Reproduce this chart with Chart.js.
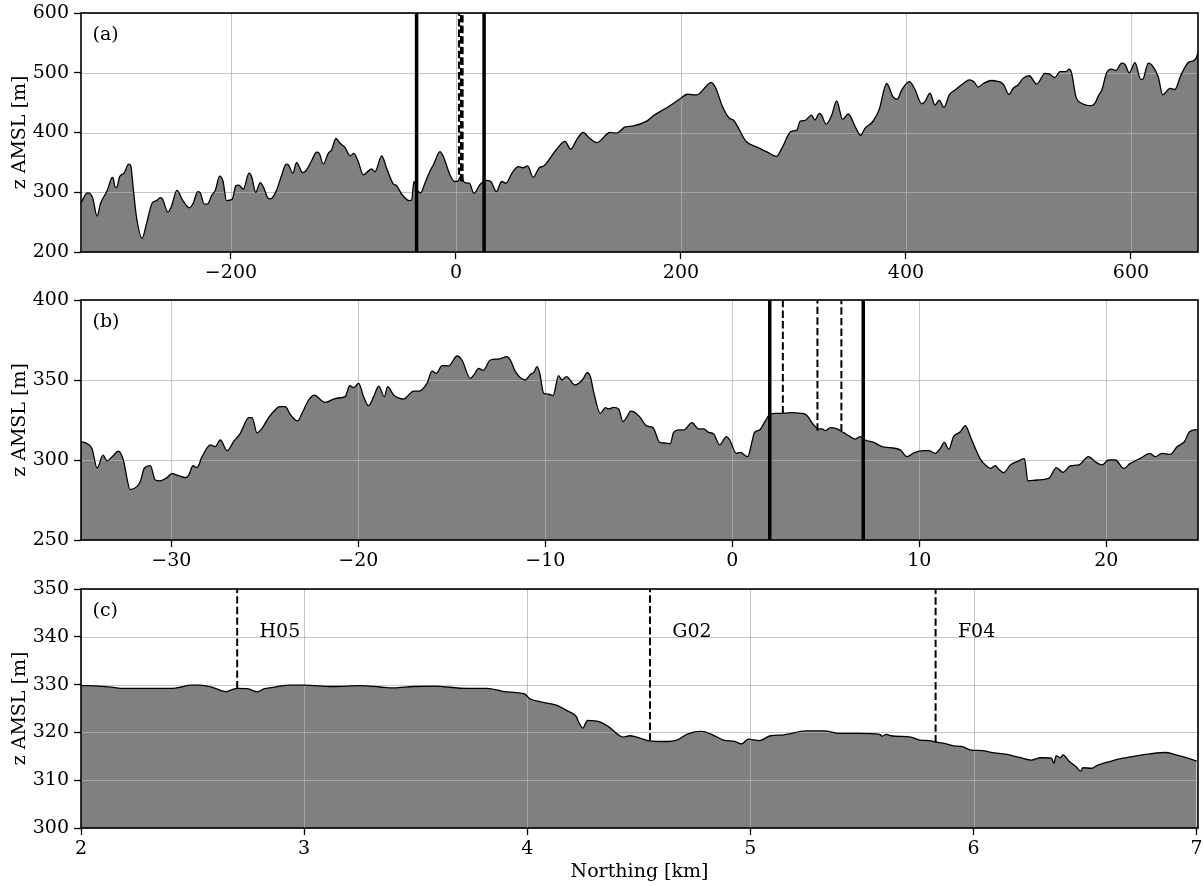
<!DOCTYPE html>
<html><head><meta charset="utf-8">
<script src="https://cdn.jsdelivr.net/npm/chart.js@4/dist/chart.umd.min.js"></script>
<style>
html,body{margin:0;padding:0;background:#fff;}
#wrap{position:relative;width:1203px;height:886px;overflow:hidden;}
canvas{position:absolute;left:0;}
</style></head><body>
<div id="wrap">
<canvas id="ca" width="1203" height="285" style="top:0px"></canvas>
<canvas id="cb" width="1203" height="290" style="top:285px"></canvas>
<canvas id="cc" width="1203" height="311" style="top:575px"></canvas>
</div>
<script>
// ---------- Panel (a): long profile ----------
const aKm = [-333,-329,-327,-323,-319,-316,-310,-306,-305,-303,-301.5,-299,-295,-291,-289,-287,-284,-279,-275,-270,-266,-263,-261,-256,-253,-248,-243,-237,-233.5,-229.6,-227.6,-223.7,-221,-217,-214,-210,-207,-204,-199,-195.6,-193,-189,-184,-181.6,-178,-174,-171,-167,-164.7,-160,-155,-151,-149,-145,-141.6,-139.6,-136.6,-133.3,-128,-124,-121.5,-118,-113.5,-110.5,-106.7,-103,-98.7,-94,-90.7,-86.8,-82.4,-77,-75,-72,-66,-61.6,-55.7,-52.7,-48.3,-41.5,-39.4,-37.3,-35,-31.4,-27.6,-23,-20,-14.2,-11.3,-5.3,-1,2,4,8,12,16,21,26.7,31,36,40.6,44.4,49.5,55.4,59.8,63.7,68.7,74,78,89.5,97,102,107,113,119,125,137,143,150,157.6,169.5,175.4,187,199,205.6,214,227,231,237,243,246.5,258,267,276,285,289.5,298,303,306,310,316,319,323,325,329,334,338.4,343.7,348.7,355.6,359.7,363.6,370.4,376.3,382.8,388.7,392.3,396.2,403,408,414,417,421.3,425.8,429.6,433.8,438.5,443.6,451,456.3,460.4,464.3,468.7,476.2,480.6,486.5,491.6,495.4,499.8,504.3,509.6,516.2,523.6,527.4,532.4,536.9,542.2,545.2,547.3,551.1,556.2,565.1,568,571.8,573.9,578.4,582.8,586.7,591.7,594.7,598.5,603.6,608.6,610.4,615.4,619.8,624.3,628.2,634.7,639.1,644.2,650.9,655.4,657.8,659.8];
const aZ = [283,297,299,291,260,281,303,324,325,309,308,326,332,347,344,309,259,223,248,282,286,291,289,267,276,303,287,274,282,301,300,280,280,295,303,327,318,286,288,311,312,305,332,326,300,316,308,290,289,301,328,347,346,332,350,344,333,336,354,367,365,347,365,371,390,382,375,361,365,351,329,337,339,334,361,340,314,311,297,286,287,318,305,299,315,336,346,368,360,329,318,319,326,316,315,298,312,320,318,301,318,315,331,343,341,344,325,341,344,372,385,372,387,400,390,383,400,399,409,411,419,428,441,456,464,463,484,474,443,424,421,385,376,368,360,373,402,404,419,420,429,421,432,429,414,429,453,422,431,407,395,407,418,439,482,459,456,471,485,472,448,452,466,446,454,442,463,471,482,488,485,476,482,487,486,481,464,474,480,491,495,481,499,498,492,502,502,506,499,460,449,445,449,464,470,500,506,504,516,514,500,517,489,489,516,510,493,463,474,472,495,517,520,524,535];
const aXTicks = [-200, 0, 200, 400, 600];
const aYTicks = [200, 300, 400, 500, 600];
const aSectionKm = [-35, 25];          // extent of panel (b)

// ---------- Panel (b): zoom -35..25 km ----------
const bKm = [-34.83,-34.47,-34.24,-33.97,-33.65,-33.44,-33.17,-32.82,-32.58,-32.19,-31.83,-31.66,-31.44,-31.12,-30.86,-30.59,-30.23,-29.96,-29.61,-29.25,-29.07,-28.84,-28.63,-28.36,-27.91,-27.65,-27.38,-27.02,-26.67,-26.31,-25.86,-25.68,-25.42,-25.15,-24.8,-24.49,-24.21,-23.9,-23.64,-23.25,-23.01,-22.66,-22.35,-21.94,-21.76,-21.32,-20.96,-20.7,-20.46,-20.25,-19.98,-19.72,-19.45,-19.18,-18.91,-18.61,-18.43,-18.11,-17.58,-17.04,-16.77,-16.33,-16.06,-15.83,-15.52,-15.17,-14.72,-14.46,-14.01,-13.8,-13.57,-13.33,-12.94,-12.5,-12.05,-11.87,-11.6,-11.07,-10.8,-10.62,-10.44,-10.3,-10.09,-9.82,-9.59,-9.29,-9.11,-8.88,-8.4,-7.98,-7.77,-7.59,-7.42,-7.06,-6.79,-6.61,-6.35,-6.08,-5.85,-5.63,-5.45,-5.28,-4.92,-4.65,-4.39,-4.21,-3.89,-3.58,-3.32,-3.14,-2.87,-2.6,-2.16,-1.8,-1.53,-1.27,-1,-0.68,-0.32,-0.14,0.21,0.43,0.6,0.82,1.05,1.18,1.46,1.76,2.03,2.3,2.74,3.19,3.64,3.96,4.35,4.61,4.8,4.97,5.24,5.6,5.95,6.22,6.58,6.84,7.11,7.56,8.01,8.45,8.98,9.34,9.73,10.23,10.5,10.86,11.12,11.34,11.57,11.83,12.19,12.46,12.73,12.99,13.26,13.53,13.8,14.06,14.24,14.51,14.87,15.22,15.49,15.62,15.8,16.29,16.92,17.33,17.68,18.07,18.52,19.05,19.41,19.77,20.12,20.48,20.93,21.28,21.82,22.32,22.62,22.98,23.42,23.78,24.17,24.45,24.9];
const bZ = [311.5,310,307,295,303,299.5,302,305.5,300.5,281.5,283.5,286.5,295,296.5,287.5,287,289,291.5,290.2,289,290.6,296.4,295.2,302,309.4,308.4,312.5,305.8,311.5,316.7,326.5,326.5,317,319.8,326.5,330.8,333.3,333.3,328.5,324.4,329.2,337.5,340.6,336.9,336,338.1,338.9,339.6,346.4,345.2,347.9,339.6,334,339.6,346.2,339.6,345.8,340.6,338.1,343.1,343.1,347.9,355.6,354.2,359,358.8,365,362.5,351,353.5,357.3,356,362.5,363.1,364.6,362.5,355.2,350,353.5,354.8,358.3,354.2,341.7,341.1,340.2,352.7,350,352.1,346.9,350.6,354.6,352.1,342.7,329.2,332.7,331.9,332.9,331.9,324,327.1,330.6,330.2,326.5,321.9,320.8,319.8,311,310.6,310.2,317.3,318.8,318.8,323.3,319.4,319.4,317.3,316.3,309.4,314.6,312.5,304.2,304.8,303.5,302.1,311.4,317.1,318.8,324.4,328.8,329.2,329.2,329.6,329.2,328.1,321.9,319.4,319.4,318.3,320.2,319.4,317.1,315.2,313.1,314.6,312.5,311,308.3,307.7,306.3,302.1,304.6,305.8,305.8,304.2,307.3,311,306.7,314.6,317.7,321.5,314.6,307.3,300.6,296.9,294.8,296.5,294.2,292.1,296.9,299,300.4,300.8,287,287.5,288.5,295.2,292.3,296.3,296.9,302.1,298.9,296.9,300,300,294.8,297.9,301,304.2,302.1,304.2,303.5,308.3,311.4,317.7,319.2];
const bXTicks = [-30, -20, -10, 0, 10, 20];
const bYTicks = [250, 300, 350, 400];
const bSectionKm = [2, 7];             // extent of panel (c)

// ---------- Panel (c): zoom 2..7 km ----------
const cKm = [2.0,2.08,2.145,2.19,2.3,2.41,2.45,2.49,2.53,2.59,2.63,2.65,2.68,2.7,2.75,2.79,2.82,2.86,2.89,2.94,3.0,3.13,3.25,3.34,3.4,3.49,3.58,3.73,3.82,3.89,3.97,3.99,4.01,4.06,4.13,4.18,4.22,4.23,4.25,4.26,4.27,4.33,4.37,4.4,4.43,4.46,4.54,4.63,4.67,4.72,4.78,4.83,4.88,4.93,4.96,4.99,5.04,5.09,5.15,5.25,5.33,5.4,5.48,5.58,5.59,5.61,5.63,5.72,5.76,5.8,5.84,5.87,5.91,5.95,5.99,6.04,6.08,6.15,6.21,6.26,6.3,6.35,6.36,6.37,6.39,6.4,6.43,6.46,6.48,6.49,6.53,6.55,6.61,6.67,6.73,6.79,6.86,6.9,6.96,7.0];
const cZ = [329.8,329.7,329.4,329.2,329.2,329.2,329.5,329.9,329.9,329.4,328.7,328.5,329,329.2,329.1,328.5,329.1,329.4,329.7,329.9,329.9,329.6,329.8,329.5,329.3,329.6,329.7,329.2,329.2,328.6,328.2,328,327.1,326.4,325.7,324.5,323.3,322.2,320.9,321.8,322.5,322.1,321,319.8,319,319.3,318.3,318.1,318.4,319.7,320.2,319.5,318.4,318.1,317.6,318.6,318.3,319.3,319.5,320.3,320.3,319.8,319.8,319.6,319.2,319.6,319.3,319,318.4,318.3,317.9,317.7,317.2,317,316.3,316.2,315.8,315.4,314.7,314.2,314.7,314.6,313.5,315.1,314.7,315.3,313.9,312.8,311.9,312.6,312.5,313,313.9,314.6,315.1,315.5,315.8,315.4,314.6,314];
const cXTicks = [2, 3, 4, 5, 6, 7];
const cYTicks = [300, 310, 320, 330, 340, 350];

// ---------- Stations ----------
const stationNames = ['H05', 'G02', 'F04'];
const stationKm = [2.7, 4.55, 5.83];
const stationZ = [329.2, 318.3, 317.9];
const stationLabelZ = 340;
const stationLabelOffsetKm = 0.1;

const FONT = 'DejaVu Serif';
const FS = 19;
function fmt(v){ return v < 0 ? '\u2212' + Math.abs(v) : String(v); }

const overlay = {
  id: 'overlay',
  afterDatasetDraw(chart, args, opts){
    const d = chart.data.datasets[args.index];
    if (!d.isFill) return;
    const {ctx, chartArea: a, scales: {x, y}} = chart;
    ctx.save();
    ctx.strokeStyle = 'rgba(176,176,176,0.72)';
    ctx.lineWidth = 1;
    x.ticks.forEach(t => { const p = Math.round(x.getPixelForValue(t.value)) + 0.5; ctx.beginPath(); ctx.moveTo(p, a.top); ctx.lineTo(p, a.bottom); ctx.stroke(); });
    y.ticks.forEach(t => { const p = Math.round(y.getPixelForValue(t.value)) + 0.5; ctx.beginPath(); ctx.moveTo(a.left, p); ctx.lineTo(a.right, p); ctx.stroke(); });
    ctx.restore();
  },
  afterDraw(chart, args, opts){
    const {ctx, chartArea: a, scales: {x, y}} = chart;
    ctx.save();
    ctx.strokeStyle = '#000';
    ctx.lineWidth = 1.6;
    ctx.strokeRect(a.left, a.top, a.right - a.left, a.bottom - a.top);
    ctx.fillStyle = '#000';
    ctx.font = FS + 'px "' + FONT + '"';
    ctx.textBaseline = 'middle';
    ctx.textAlign = 'left';
    ctx.fillText(opts.label, a.left + 11.5, a.top + 22);
    if (opts.stations) {
      ctx.textBaseline = 'alphabetic';
      stationNames.forEach((n, i) => {
        ctx.fillText(n, x.getPixelForValue(stationKm[i] + stationLabelOffsetKm), y.getPixelForValue(stationLabelZ));
      });
    }
    ctx.restore();
  }
};

function panel(id, o){
  const H = document.getElementById(id).height;
  const pts = o.km.map((v, i) => ({x: v, y: o.z[i]}));
  const ds = [];
  ds.push({data: pts, isFill: true, borderColor: 'rgba(0,0,0,0)', borderWidth: 1, backgroundColor: '#808080', fill: 'start', pointRadius: 0, order: 5, cubicInterpolationMode: 'monotone', clip: 0});
  ds.push({data: pts, borderColor: '#000', borderWidth: 1.3, fill: false, pointRadius: 0, order: 4, cubicInterpolationMode: 'monotone', clip: 0});
  stationKm.forEach((s, i) => {
    ds.push({data: [{x: s, y: stationZ[i]}, {x: s, y: o.ymax}], borderColor: '#000', borderWidth: o.dashW || 2, borderDash: [7.4, 3.2], fill: false, pointRadius: 0, order: 2, clip: 0});
  });
  (o.section || []).forEach(s => {
    ds.push({data: [{x: s, y: o.ymin}, {x: s, y: o.ymax}], borderColor: '#000', borderWidth: 3.5, fill: false, pointRadius: 0, order: 1, clip: 0});
  });
  const tickFont = {family: FONT, size: FS};
  return new Chart(document.getElementById(id), {
    type: 'line',
    data: {datasets: ds},
    plugins: [overlay],
    options: {
      responsive: false, animation: false, devicePixelRatio: 1,
      layout: {padding: {top: o.top, right: 5, left: 0, bottom: 0}},
      plugins: {legend: {display: false}, tooltip: {enabled: false},
        overlay: {label: o.label, stations: !!o.stations}},
      scales: {
        x: {type: 'linear', min: o.xmin, max: o.xmax,
          afterBuildTicks: s => { s.ticks = o.xt.map(v => ({value: v})); },
          afterFit: s => { s.height = H - o.top - o.ph; s.paddingLeft = 0; s.paddingRight = 0; },
          grid: {display: true, drawOnChartArea: false, drawTicks: true, tickLength: 7, tickColor: '#000', tickWidth: 1.3},
          border: {display: false},
          ticks: {font: tickFont, color: '#000', padding: 3, maxRotation: 0, autoSkip: false, callback: v => fmt(v)},
          title: {display: !!o.xtitle, text: o.xtitle || '', font: tickFont, color: '#000', padding: {top: 0, bottom: 3}}
        },
        y: {type: 'linear', min: o.ymin, max: o.ymax,
          afterBuildTicks: s => { s.ticks = o.yt.map(v => ({value: v})); },
          afterFit: s => { s.width = 81; s.paddingTop = 0; s.paddingBottom = 0; },
          grid: {display: true, drawOnChartArea: false, drawTicks: true, tickLength: 7, tickColor: '#000', tickWidth: 1.3},
          border: {display: false},
          ticks: {font: tickFont, color: '#000', padding: 5, autoSkip: false, callback: v => fmt(v)},
          title: {display: true, text: 'z AMSL [m]', font: tickFont, color: '#000', padding: {top: 9, bottom: 0}}
        }
      }
    }
  });
}

panel('ca', {km: aKm, z: aZ, xmin: -333.3, xmax: 659.6, ymin: 200, ymax: 600, xt: aXTicks, yt: aYTicks, top: 13, ph: 239, label: '(a)', section: aSectionKm, dashW: 2.2});
panel('cb', {km: bKm, z: bZ, xmin: -34.83, xmax: 24.9, ymin: 250, ymax: 400, xt: bXTicks, yt: bYTicks, top: 15, ph: 240, label: '(b)', section: bSectionKm});
panel('cc', {km: cKm, z: cZ, xmin: 2, xmax: 7.006, ymin: 300, ymax: 350, xt: cXTicks, yt: cYTicks, top: 14, ph: 239, label: '(c)', stations: true, xtitle: 'Northing [km]'});
</script>
</body></html>
